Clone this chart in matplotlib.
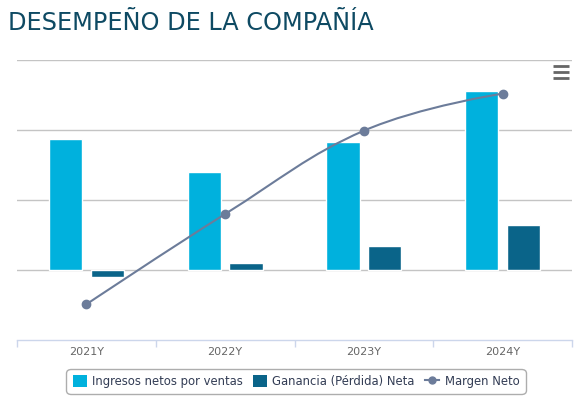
import numpy as np
import matplotlib
matplotlib.use("Agg")
import matplotlib.pyplot as plt
from matplotlib.path import Path
from matplotlib.patches import PathPatch, Patch
from matplotlib.lines import Line2D

# ---- data (chart units, gridline spacing = 1) ----
categories = ["2021Y", "2022Y", "2023Y", "2024Y"]
ingresos = [1.87, 1.40, 1.83, 2.56]
ganancia = [-0.10, 0.10, 0.34, 0.64]
margen = [-0.49, 0.80, 1.99, 2.52]

title = "DESEMPEÑO DE LA COMPAÑÍA"
series_names = ["Ingresos netos por ventas", "Ganancia (Pérdida) Neta", "Margen Neto"]

C_LIGHT = "#00b1dd"
C_DARK = "#0a6489"
C_LINE = "#6c7c9a"

plt.rcParams['font.family'] = ['DejaVu Sans']

W, H = 582, 404
fig = plt.figure(figsize=(W / 100, H / 100), dpi=100)

def fx(px):
    return px / W

def fy(py):
    return 1 - py / H

ax = fig.add_axes([fx(17), fy(340), fx(572) - fx(17), fy(60) - fy(340)])
ax.set_xlim(-0.5, len(categories) - 0.5)
ax.set_ylim(-1, 3)

# gridlines
for g in [0, 1, 2, 3]:
    ax.axhline(g, color="#c4c4c4", lw=1.0, zorder=1)

x = np.arange(len(categories))
bw = 0.24
off = 0.151
ax.bar(x - off, ingresos, width=bw, color=C_LIGHT, edgecolor="white", linewidth=1.0, zorder=2)
ax.bar(x + off, ganancia, width=bw, color=C_DARK, edgecolor="white", linewidth=1.0, zorder=2)

# Highcharts-style spline through the margin points
def spline_path(xs, ys, smoothing=1.5):
    denom = smoothing + 1
    n = len(xs)
    lc = [None] * n
    rc = [None] * n
    for i in range(1, n - 1):
        px, py = xs[i], ys[i]
        lx, ly = xs[i - 1], ys[i - 1]
        nx, ny = xs[i + 1], ys[i + 1]
        lcx = (smoothing * px + lx) / denom
        lcy = (smoothing * py + ly) / denom
        rcx = (smoothing * px + nx) / denom
        rcy = (smoothing * py + ny) / denom
        if rcx != lcx:
            corr = (rcy - lcy) * (rcx - px) / (rcx - lcx) + py - rcy
            lcy += corr
            rcy += corr
            if lcy > ly and lcy > py:
                lcy = max(ly, py); rcy = 2 * py - lcy
            elif lcy < ly and lcy < py:
                lcy = min(ly, py); rcy = 2 * py - lcy
            if rcy > ny and rcy > py:
                rcy = max(ny, py); lcy = 2 * py - rcy
            elif rcy < ny and rcy < py:
                rcy = min(ny, py); lcy = 2 * py - rcy
        lc[i] = (lcx, lcy)
        rc[i] = (rcx, rcy)
    verts = [(xs[0], ys[0])]
    codes = [Path.MOVETO]
    for i in range(1, n):
        c1 = rc[i - 1] if rc[i - 1] is not None else (xs[i - 1], ys[i - 1])
        c2 = lc[i] if lc[i] is not None else (xs[i], ys[i])
        verts += [c1, c2, (xs[i], ys[i])]
        codes += [Path.CURVE4] * 3
    return Path(verts, codes)

path = spline_path(list(x.astype(float)), margen)
ax.add_patch(PathPatch(path, facecolor="none", edgecolor=C_LINE, lw=1.5, zorder=3, capstyle="round"))
ax.plot(x, margen, linestyle="none", marker="o", ms=6, color=C_LINE, zorder=4)

# axes styling
for s in ["top", "right", "left"]:
    ax.spines[s].set_visible(False)
ax.spines["bottom"].set_color("#ccd6eb")
ax.spines["bottom"].set_linewidth(1.0)
ax.set_yticks([])
ax.set_xticks(x)
ax.set_xticklabels(categories, color="#666666", fontsize=8)
ax.tick_params(axis="x", which="major", length=0, pad=5)
ax.set_xticks(np.arange(-0.5, len(categories), 1.0), minor=True)
ax.tick_params(axis="x", which="minor", length=5, color="#ccd6eb", width=1)
ax.set_facecolor("none")

# title
fig.text(fx(8), fy(22.5), title, fontsize=17.3, color="#0e4a63", va="center", ha="left",
         family=["DejaVu Sans"], fontweight="normal")

# menu icon
for yy in [66, 72, 77.5]:
    fig.add_artist(Line2D([fx(553), fx(569)], [fy(yy), fy(yy)], color="#666666", lw=2.0,
                          solid_capstyle="butt"))

# legend
handles = [Patch(facecolor=C_LIGHT, edgecolor="none"),
           Patch(facecolor=C_DARK, edgecolor="none"),
           Line2D([0], [0], color=C_LINE, lw=1.5, marker="o", ms=5)]
leg = fig.legend(handles, series_names, loc="center", bbox_to_anchor=(fx(296), fy(381.5)),
                 ncol=3, fontsize=8.4, frameon=True, fancybox=True, handlelength=1.2,
                 handleheight=1.25, handletextpad=0.45, columnspacing=0.9, borderpad=0.55,
                 borderaxespad=0, labelcolor="#333d55")
leg.get_frame().set_edgecolor("#999999")
leg.get_frame().set_linewidth(1.0)
leg.get_frame().set_boxstyle("round,pad=0.0,rounding_size=0.4")

fig.savefig("out.png", dpi=100)
